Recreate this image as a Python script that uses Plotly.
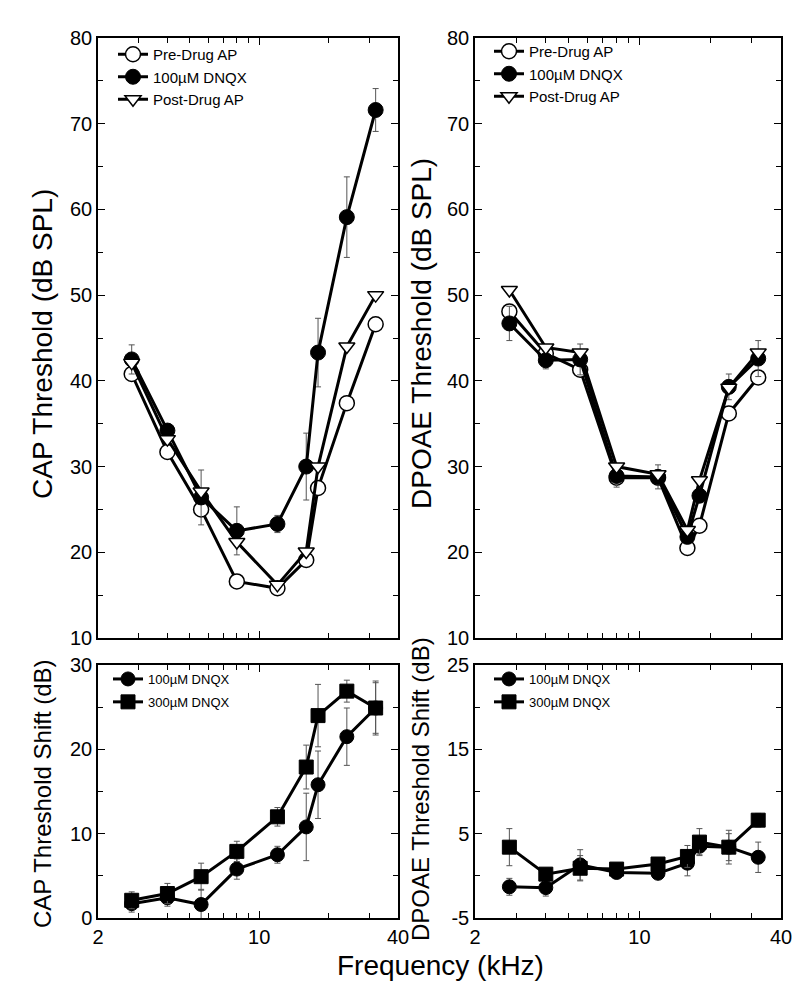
import math
import plotly.graph_objects as go

#---------------------------------------- DATA ------------------------------------------------------------

freq = [2.8, 4, 5.6, 8, 12, 16, 18, 24, 32]

cap_pre = [40.8, 31.7, 25.0, 16.6, 15.8, 19.1, 27.5, 37.4, 46.6]
cap_dnqx = [42.5, 34.2, 26.4, 22.5, 23.3, 30.0, 43.3, 59.1, 71.6]
cap_dnqx_err = [1.7, 0.6, 3.2, 2.8, 1.0, 3.9, 4.0, 4.7, 2.5]
cap_post = [42.1, 33.2, 27.1, 21.2, 16.2, 20.1, 30.0, 44.0, 50.0]

dp_pre = [48.1, 43.2, 41.3, 28.7, 28.7, 20.5, 23.1, 36.2, 40.4]
dp_dnqx = [46.7, 42.4, 42.5, 28.9, 28.8, 21.8, 26.6, 39.3, 42.6]
dp_dnqx_err = [2.0, 1.0, 1.8, 1.3, 1.4, 0.6, 0.8, 1.5, 2.1]
dp_post = [50.6, 43.9, 43.3, 30.0, 29.1, 22.6, 28.4, 39.2, 43.3]

cap_shift_100 = [1.7, 2.4, 1.6, 5.8, 7.5, 10.8, 15.8, 21.5, 24.9]
cap_shift_100_err = [1.0, 1.0, 1.8, 1.2, 1.0, 4.0, 4.0, 3.4, 3.2]
cap_shift_300 = [2.1, 2.9, 4.9, 7.9, 12.0, 17.9, 24.0, 26.9, 24.9]
cap_shift_300_err = [1.0, 1.2, 1.6, 1.2, 1.1, 2.6, 3.7, 1.3, 3.0]

dp_shift_100 = [-1.3, -1.4, 1.3, 0.4, 0.3, 1.5, 3.5, 3.4, 2.2]
dp_shift_100_err = [1.0, 1.0, 1.8, 0.5, 0.5, 1.5, 1.0, 2.0, 1.8]
dp_shift_300 = [3.4, 0.2, 0.9, 0.8, 1.4, 2.3, 4.0, 3.4, 6.6]
dp_shift_300_err = [2.2, 0.5, 1.5, 0.5, 0.7, 1.3, 1.6, 1.6, 0.8]

x_ticks = [2, 10, 40]
x_minor = [3, 4, 5, 6, 7, 8, 9, 20, 30]
dp_shift_ticks = [-5, 5, 15, 25]

#---------------------------------------- STYLES ----------------------------------------------------------

FONT = "Liberation Sans, Arial, Helvetica, sans-serif"
W, H = 800, 986

open_circle = dict(symbol="circle", size=15, color="white", line=dict(color="black", width=1.5))
filled_circle = dict(symbol="circle", size=15, color="black", line=dict(color="black", width=1))
open_tri = dict(symbol="triangle-down", size=14, color="white", line=dict(color="black", width=1.5))
small_circle = dict(symbol="circle", size=14, color="black", line=dict(color="black", width=1))
square = dict(symbol="square", size=14, color="black", line=dict(color="black", width=1))
line = dict(color="black", width=3)


def err(vals):
    return dict(type="data", array=vals, visible=True, color="#555", thickness=1, width=3)


def add(fig, y, name, marker, ax, lg, e=None):
    fig.add_trace(go.Scatter(
        x=freq, y=y, name=name, mode="lines+markers", line=line, marker=marker,
        error_y=err(e) if e else None,
        xaxis="x" + ax, yaxis="y" + ax, legend=lg, legendgroup=lg + name,
    ))


fig = go.Figure()

# top left: CAP thresholds
add(fig, cap_pre, "Pre-Drug AP", open_circle, "", "legend")
add(fig, cap_dnqx, "100µM DNQX", filled_circle, "", "legend", cap_dnqx_err)
add(fig, cap_post, "Post-Drug AP", open_tri, "", "legend")

# top right: DPOAE thresholds
add(fig, dp_pre, "Pre-Drug AP", open_circle, "2", "legend2")
add(fig, dp_dnqx, "100µM DNQX", filled_circle, "2", "legend2", dp_dnqx_err)
add(fig, dp_post, "Post-Drug AP", open_tri, "2", "legend2")

# bottom left: CAP shift
add(fig, cap_shift_100, "100µM DNQX", small_circle, "3", "legend3", cap_shift_100_err)
add(fig, cap_shift_300, "300µM DNQX", square, "3", "legend3", cap_shift_300_err)

# bottom right: DPOAE shift
add(fig, dp_shift_100, "100µM DNQX", small_circle, "4", "legend4", dp_shift_100_err)
add(fig, dp_shift_300, "300µM DNQX", square, "4", "legend4", dp_shift_300_err)

#---------------------------------------- AXES ------------------------------------------------------------

left = [90 / W, 390 / W]
right = [467 / W, 773 / W]
top = [1 - 630 / H, 1 - 30 / H]
bottom = [1 - 910 / H, 1 - 657 / H]

base = dict(showline=True, linecolor="black", linewidth=1.5, mirror="ticks", ticks="inside",
            ticklen=7, tickwidth=1.2, tickcolor="black", showgrid=False, zeroline=False,
            tickfont=dict(family=FONT, size=20, color="black"))


def xax(dom, anchor, labels):
    return dict(base, type="log", domain=dom, anchor=anchor,
                range=[math.log10(2), math.log10(40)],
                tickmode="array", tickvals=x_ticks, ticktext=[str(v) for v in x_ticks],
                showticklabels=labels,
                minor=dict(tickmode="array", tickvals=x_minor, ticks="inside", ticklen=5,
                           tickcolor="black", tickwidth=1.2, showgrid=False))


def yax(dom, anchor, rng, t0):
    return dict(base, domain=dom, anchor=anchor, range=rng, tick0=t0, dtick=10,
                minor=dict(tick0=0, dtick=5, ticks="inside", ticklen=5,
                           tickcolor="black", tickwidth=1.2, showgrid=False))


y4 = yax(bottom, "x4", [-5, 25], -5)
y4.update(tickmode="array", tickvals=dp_shift_ticks, ticktext=[str(v) for v in dp_shift_ticks])

leg = dict(bgcolor="rgba(0,0,0,0)", borderwidth=0, xanchor="left", yanchor="top",
           itemclick=False, itemdoubleclick=False)

fig.update_layout(
    width=W, height=H,
    margin=dict(l=0, r=0, t=0, b=0),
    paper_bgcolor="white", plot_bgcolor="white",
    template="none",
    font=dict(family=FONT, color="black"),
    xaxis=xax(left, "y", False), yaxis=yax(top, "x", [10, 80], 0),
    xaxis2=xax(right, "y2", False), yaxis2=yax(top, "x2", [10, 80], 0),
    xaxis3=xax(left, "y3", True), yaxis3=yax(bottom, "x3", [0, 30], 0),
    xaxis4=xax(right, "y4", True), yaxis4=y4,
    legend=dict(leg, x=105 / W, y=1 - 30 / H, tracegroupgap=0, font=dict(family=FONT, size=15)),
    legend2=dict(leg, x=481 / W, y=1 - 27 / H, tracegroupgap=0, font=dict(family=FONT, size=15)),
    legend3=dict(leg, x=100 / W, y=1 - 656 / H, tracegroupgap=3, font=dict(family=FONT, size=13)),
    legend4=dict(leg, x=481 / W, y=1 - 656 / H, tracegroupgap=3, font=dict(family=FONT, size=13)),
)

#---------------------------------------- AXIS TITLES ------------------------------------------------------

titles = [
    ("CAP Threshold (dB SPL)", 34, 336, 28),
    ("DPOAE Threshold (dB SPL)", 413, 326, 28),
    ("CAP Threshold Shift (dB)", 34, 786, 24),
    ("DPOAE Threshold Shift (dB)", 412, 781, 24),
]
for text, px, py, size in titles:
    fig.add_annotation(text=text, x=px / W, y=1 - py / H, xref="paper", yref="paper",
                       textangle=-90, showarrow=False, xanchor="center", yanchor="middle",
                       font=dict(family=FONT, size=size, color="black"))

fig.add_annotation(text="Frequency (kHz)", x=432 / W, y=1 - 957 / H, xref="paper", yref="paper",
                   showarrow=False, xanchor="center", yanchor="middle",
                   font=dict(family=FONT, size=28, color="black"))

fig.write_html("out.html")
